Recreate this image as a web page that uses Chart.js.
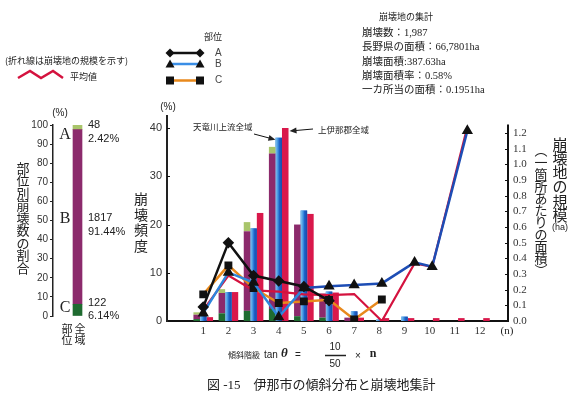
<!DOCTYPE html>
<html>
<head>
<meta charset="utf-8">
<script src="https://cdn.jsdelivr.net/npm/chart.js@4"></script>
<style>
  html, body { margin: 0; padding: 0; background: #fff; }
  #wrap { position: relative; width: 579px; height: 394px; overflow: hidden; background: #fff; }
  #wrap canvas { position: absolute; left: 0; top: 0; }
</style>
</head>
<body>
<div id="wrap">
  <canvas id="main" width="579" height="394"></canvas>
  <canvas id="share" width="140" height="394"></canvas>
</div>
<script>
// ---- slope classes (tan θ = 10/50 × n) ----
const classes = [1, 2, 3, 4, 5, 6, 7, 8, 9, 10, 11, 12];
const classLabels = ['1', '2', '3', '4', '5', '6', '7', '8', '9', '10', '11', '12'];

// landslide frequency (%) of 伊那市, split by slope part
const inaC = [0.4, 1.6, 2.1, 2.5, 1.0, 0.7, 0.0, 0, 0, 0, 0, 0];
const inaB = [0.9, 4.2, 16.5, 32.2, 19.0, 5.0, 0.7, 0, 0, 0, 0, 0];
const inaA = [0.5, 0.8, 1.9, 1.4, 0.0, 0.0, 0.0, 0, 0, 0, 0, 0];
// 天竜川上流全域 and 上伊那郡全域 frequency (%)
const tenryuFreq = [1.1, 6.0, 19.2, 38.0, 22.9, 6.1, 2.0, 0.3, 0.9, 0, 0, 0];
const kamiinaFreq = [0.8, 6.0, 22.4, 40.0, 22.2, 5.9, 0.7, 0.6, 0.6, 0.6, 0.6, 0.6];

// landslide size per site (ha); the last point stands for the steepest classes
const lineClassPos = [1, 2, 3, 4, 5, 6, 7, 8.1, 9.4, 10.1, 11.5];
const sizeAvg = [0.07, 0.29, 0.195, 0.188, 0.17, 0.165, 0.172, 0.0, 0.367, 0.346, 1.24];
const sizeA = [0.09, 0.50, 0.29, 0.255, 0.22, 0.13];
const sizeB = [0.05, 0.31, 0.245, 0.025, 0.21, 0.222, 0.229, 0.24, 0.374, 0.346, 1.214];
const sizeC = [0.17, 0.355, 0.21, 0.115, 0.125, 0.135, 0.01, 0.137];

// share of landslides by slope part (全域)
const partNames = ['A', 'B', 'C'];
const partCounts = [48, 1817, 122];
const partPct = [2.42, 91.44, 6.14];

// axis ticks
const freqTicks = [0, 10, 20, 30, 40];
const sizeTicks = [0, 0.1, 0.2, 0.3, 0.4, 0.5, 0.6, 0.7, 0.8, 0.9, 1.0, 1.1, 1.2];
const shareTicks = [0, 10, 20, 30, 40, 50, 60, 70, 80, 90, 100];

// summary block
const summaryTitle = '崩壊地の集計';
const summaryLines = [
  '崩壊数：1,987',
  '長野県の面積：66,7801ha',
  '崩壊面積:387.63ha',
  '崩壊面積率：0.58%',
  '一カ所当の面積：0.1951ha'
];

const SANS = "'Liberation Sans', 'Noto Sans CJK JP', sans-serif";
const JSANS = "'Noto Sans CJK JP', sans-serif";
const SERIF = "'Liberation Serif', 'Noto Sans CJK JP', serif";
const INK = '#222';

const C_LGREEN = '#a9c56b';
const C_PURPLE = '#8c2a6c';
const C_DGREEN = '#1f6b30';
const C_RED = '#d9184b';
const C_LINE_RED = '#d4123e';
const C_ORANGE = '#e8891c';

const bars = (vals) => vals.map((v, i) => ({ x: classes[i], y: v }));
const pts = (vals) => vals.map((v, i) => ({ x: lineClassPos[i], y: v }));

function vtext(ctx, str, x, y0, step) {
  ctx.textAlign = 'center';
  ctx.textBaseline = 'middle';
  Array.from(str).forEach((c, i) => ctx.fillText(c, x, y0 + i * step));
}

function arrow(ctx, x1, y1, x2, y2) {
  const a = Math.atan2(y2 - y1, x2 - x1);
  ctx.beginPath();
  ctx.moveTo(x1, y1);
  ctx.lineTo(x2 - 5 * Math.cos(a), y2 - 5 * Math.sin(a));
  ctx.stroke();
  ctx.beginPath();
  ctx.moveTo(x2, y2);
  ctx.lineTo(x2 - 7 * Math.cos(a) + 3 * Math.sin(a), y2 - 7 * Math.sin(a) - 3 * Math.cos(a));
  ctx.lineTo(x2 - 7 * Math.cos(a) - 3 * Math.sin(a), y2 - 7 * Math.sin(a) + 3 * Math.cos(a));
  ctx.closePath();
  ctx.fill();
}

function marker(ctx, style, x, y, r) {
  ctx.beginPath();
  if (style === 'diamond') {
    ctx.moveTo(x, y - r); ctx.lineTo(x + r, y); ctx.lineTo(x, y + r); ctx.lineTo(x - r, y);
  } else if (style === 'triangle') {
    ctx.moveTo(x, y - r); ctx.lineTo(x + r, y + r * 0.75); ctx.lineTo(x - r, y + r * 0.75);
  } else {
    ctx.rect(x - r, y - r, 2 * r, 2 * r);
  }
  ctx.closePath();
  ctx.fill();
}

// shaded fill for the 天竜川上流全域 bars
const TENRYU_INDEX = 7;
const cylinderShade = {
  id: 'cylinderShade',
  afterDatasetDraw(chart, args) {
    if (args.index !== TENRYU_INDEX) return;
    const ctx = chart.ctx;
    ctx.save();
    args.meta.data.forEach((el) => {
      const h = el.base - el.y;
      if (h <= 0.3) return;
      const l = el.x - el.width / 2;
      const g = ctx.createLinearGradient(l, 0, l + el.width, 0);
      g.addColorStop(0, '#8cc8f0');
      g.addColorStop(0.4, '#3c90e0');
      g.addColorStop(0.6, '#1f62c8');
      g.addColorStop(1, '#1a49a6');
      ctx.fillStyle = g;
      ctx.fillRect(l, el.y, el.width, h);
    });
    ctx.restore();
  }
};

const mainDecor = {
  id: 'mainDecor',
  afterDraw(chart) {
    const ctx = chart.ctx;
    const { y, y2 } = chart.scales;
    const area = chart.chartArea;
    ctx.save();
    ctx.fillStyle = INK;
    ctx.strokeStyle = INK;

    // right axis line and inward tick marks
    ctx.lineWidth = 2;
    ctx.strokeStyle = '#111';
    ctx.beginPath();
    ctx.moveTo(area.right, y2.getPixelForValue(0) + 1);
    ctx.lineTo(area.right, y2.getPixelForValue(1.255));
    ctx.stroke();
    ctx.lineWidth = 1;
    sizeTicks.slice(1).forEach((v) => {
      const py = Math.round(y2.getPixelForValue(v)) + 0.5;
      ctx.beginPath(); ctx.moveTo(area.right - 3, py); ctx.lineTo(area.right, py); ctx.stroke();
    });
    freqTicks.slice(1).forEach((v) => {
      const py = Math.round(y.getPixelForValue(v)) + 0.5;
      ctx.beginPath(); ctx.moveTo(area.left, py); ctx.lineTo(area.left + 3, py); ctx.stroke();
    });

    // axis titles
    ctx.font = '10px ' + SANS;
    ctx.textAlign = 'center'; ctx.textBaseline = 'middle';
    ctx.fillText('(%)', area.left + 1, 107);
    ctx.font = '14px ' + JSANS;
    vtext(ctx, '崩壊頻度', 141, 199, 15.5);
    ctx.font = '15px ' + JSANS;
    vtext(ctx, '崩壊地の規模', 560, 144, 14.2);
    ctx.font = '13px ' + JSANS;
    vtext(ctx, '︵一箇所あたりの面積︶', 541, 150, 12);
    ctx.font = '9px ' + SANS;
    ctx.fillText('(ha)', 560, 228);
    ctx.font = '11px ' + SERIF;
    ctx.fillText('(n)', 507, 331);

    // bar callouts
    const ten = chart.getDatasetMeta(TENRYU_INDEX).data[3];
    const kam = chart.getDatasetMeta(8).data[3];
    ctx.font = '8.5px ' + JSANS;
    ctx.textAlign = 'left';
    ctx.fillText('天竜川上流全域', 193, 127);
    ctx.fillText('上伊那郡全域', 318, 130);
    ctx.lineWidth = 1;
    arrow(ctx, 254, 134, ten.x - ten.width / 2, ten.y + 2);
    arrow(ctx, 313, 129, kam.x + kam.width / 2 + 1, kam.y + 3);

    // line legend note
    ctx.font = '9px ' + JSANS;
    ctx.textAlign = 'left';
    ctx.fillText('(折れ線は崩壊地の規模を示す)', 5, 61);
    ctx.strokeStyle = C_LINE_RED;
    ctx.lineWidth = 2.5;
    ctx.lineJoin = 'miter';
    ctx.beginPath();
    ctx.moveTo(18, 78); ctx.lineTo(30, 71); ctx.lineTo(41, 78); ctx.lineTo(53, 71); ctx.lineTo(63, 78);
    ctx.stroke();
    ctx.fillStyle = INK;
    ctx.font = '9px ' + JSANS;
    ctx.fillText('平均値', 70, 77);

    // part legend
    ctx.font = '9px ' + JSANS;
    ctx.textAlign = 'center';
    ctx.fillText('部位', 213, 37);
    const legendRows = [
      { name: 'A', y: 53, color: '#111', style: 'diamond', r: 4.5 },
      { name: 'B', y: 64, color: '#3a8ee6', style: 'triangle', r: 4.5 },
      { name: 'C', y: 80.5, color: C_ORANGE, style: 'square', r: 4 }
    ];
    legendRows.forEach((row) => {
      ctx.strokeStyle = row.color;
      ctx.lineWidth = 2.5;
      ctx.beginPath(); ctx.moveTo(170, row.y); ctx.lineTo(200, row.y); ctx.stroke();
      ctx.fillStyle = '#111';
      marker(ctx, row.style, 170, row.y, row.r);
      marker(ctx, row.style, 200, row.y, row.r);
      ctx.fillStyle = '#444';
      ctx.font = '10px ' + SANS;
      ctx.textAlign = 'left';
      ctx.fillText(row.name, 215, row.y);
    });

    // summary block
    ctx.fillStyle = INK;
    ctx.font = '9px ' + JSANS;
    ctx.textAlign = 'center';
    ctx.fillText(summaryTitle, 406, 17);
    ctx.font = '10.5px ' + SERIF;
    ctx.textAlign = 'left';
    summaryLines.forEach((s, i) => ctx.fillText(s, 362, 33 + i * 14.4));

    // slope class formula
    ctx.font = '8px ' + JSANS;
    ctx.fillText('傾斜階級', 228, 355);
    ctx.font = '10px ' + SANS;
    ctx.fillText('tan', 264, 355);
    ctx.font = 'bold italic 13px ' + SERIF;
    ctx.fillText('θ', 281, 354);
    ctx.font = '10px ' + SANS;
    ctx.fillText('=', 295, 355);
    ctx.textAlign = 'center';
    ctx.fillText('10', 335, 347);
    ctx.fillText('50', 335, 364);
    ctx.lineWidth = 1.5;
    ctx.strokeStyle = INK;
    ctx.beginPath(); ctx.moveTo(325, 355.5); ctx.lineTo(346, 355.5); ctx.stroke();
    ctx.fillText('×', 358, 356);
    ctx.font = 'bold 12px ' + SERIF;
    ctx.fillText('n', 373, 354);

    // caption
    ctx.font = '13px ' + SERIF;
    ctx.textAlign = 'left';
    ctx.fillText('図 -15　伊那市の傾斜分布と崩壊地集計', 207, 386);
    ctx.restore();
  }
};

const barBase = { type: 'bar', yAxisID: 'y', order: 2, categoryPercentage: 0.78, barPercentage: 1.0, borderWidth: 0 };

new Chart(document.getElementById('main'), {
  type: 'bar',
  data: {
    datasets: [
      { type: 'line', label: '平均値', data: pts(sizeAvg), yAxisID: 'y2', order: 1,
        borderColor: C_LINE_RED, borderWidth: 2.2, pointRadius: 0, tension: 0 },
      { type: 'line', label: 'A', data: pts(sizeA), yAxisID: 'y2', order: 0,
        borderColor: '#111', borderWidth: 2.5, tension: 0,
        pointStyle: 'rectRot', pointRadius: 4, pointBackgroundColor: '#111', pointBorderColor: '#111' },
      { type: 'line', label: 'B', data: pts(sizeB), yAxisID: 'y2', order: 0,
        borderColor: '#2d86dd', borderWidth: 2.5, tension: 0,
        segment: { borderColor: (c) => (c.p0.parsed.x >= 5 ? '#1d4db5' : '#2d86dd') },
        pointStyle: 'triangle', pointRadius: 4, pointBackgroundColor: '#111', pointBorderColor: '#111' },
      { type: 'line', label: 'C', data: pts(sizeC), yAxisID: 'y2', order: 0,
        borderColor: C_ORANGE, borderWidth: 2.5, tension: 0,
        pointStyle: 'rect', pointRadius: 3.8, pointBackgroundColor: '#111', pointBorderColor: '#111' },
      Object.assign({ label: '伊那市 C', data: bars(inaC), stack: 'ina', backgroundColor: C_DGREEN }, barBase),
      Object.assign({ label: '伊那市 B', data: bars(inaB), stack: 'ina', backgroundColor: C_PURPLE }, barBase),
      Object.assign({ label: '伊那市 A', data: bars(inaA), stack: 'ina', backgroundColor: C_LGREEN }, barBase),
      Object.assign({ label: '天竜川上流全域', data: bars(tenryuFreq), stack: 'tenryu', backgroundColor: '#2f7fd8' }, barBase),
      Object.assign({ label: '上伊那郡全域', data: bars(kamiinaFreq), stack: 'kamiina', backgroundColor: C_RED }, barBase)
    ]
  },
  options: {
    responsive: false,
    animation: false,
    devicePixelRatio: 1,
    layout: { padding: { top: 116, left: 0, right: 0, bottom: 0 } },
    plugins: { legend: { display: false }, tooltip: { enabled: false } },
    scales: {
      x: {
        type: 'linear', min: 0.124, max: 12.55, stacked: true,
        grid: { display: false, drawTicks: false },
        border: { display: true, color: '#111', width: 2 },
        afterBuildTicks: (s) => { s.ticks = classes.map((v) => ({ value: v })); },
        ticks: { padding: 4, color: '#333', font: { family: SERIF, size: 11 },
                 callback: (v) => classLabels[classes.indexOf(v)] },
        afterFit: (s) => { s.height = 73; }
      },
      y: {
        position: 'left', min: 0, max: 42.5, stacked: true,
        grid: { display: false, drawTicks: false },
        border: { display: true, color: '#222', width: 2 },
        afterBuildTicks: (s) => { s.ticks = freqTicks.map((v) => ({ value: v })); },
        ticks: { padding: 5, color: '#333', font: { family: SANS, size: 11 } },
        afterFit: (s) => { s.width = 167; }
      },
      y2: {
        position: 'right', min: 0, max: 1.3085,
        grid: { display: false, drawTicks: false },
        border: { display: false },
        afterBuildTicks: (s) => { s.ticks = sizeTicks.map((v) => ({ value: v })); },
        ticks: { padding: 5, color: '#333', font: { family: SERIF, size: 11 },
                 callback: (v) => Number(v).toFixed(1) },
        afterFit: (s) => { s.width = 71; }
      }
    }
  },
  plugins: [cylinderShade, mainDecor]
});

// share of landslides by slope part
const shareDecor = {
  id: 'shareDecor',
  afterDraw(chart) {
    const ctx = chart.ctx;
    ctx.save();
    ctx.fillStyle = INK;
    ctx.textBaseline = 'middle';
    ctx.textAlign = 'center';
    ctx.font = '10px ' + SANS;
    ctx.fillText('(%)', 60, 113);
    ctx.font = '16px ' + SERIF;
    const ys = chart.scales.y;
    ctx.fillText(partNames[0], 65, ys.getPixelForValue(95));
    ctx.fillText(partNames[1], 65, ys.getPixelForValue(51));
    ctx.fillText(partNames[2], 65, ys.getPixelForValue(4.5));
    ctx.font = '11px ' + SANS;
    ctx.textAlign = 'left';
    const rows = [[125, 139], [218, 232], [303, 316]];
    rows.forEach((r, i) => {
      ctx.fillText(String(partCounts[i]), 88, r[0]);
      ctx.fillText(partPct[i].toFixed(2) + '%', 88, r[1]);
    });
    ctx.font = '13px ' + JSANS;
    vtext(ctx, '部位別崩壊数の割合', 23, 168, 12.5);
    ctx.font = '11px ' + JSANS;
    vtext(ctx, '部位', 67, 329, 11);
    vtext(ctx, '全域', 80, 329, 11);
    ctx.restore();
  }
};

new Chart(document.getElementById('share'), {
  type: 'bar',
  data: {
    labels: ['全域'],
    datasets: [
      { label: 'C', data: [partPct[2]], backgroundColor: C_DGREEN, stack: 's' },
      { label: 'B', data: [partPct[1]], backgroundColor: C_PURPLE, stack: 's' },
      { label: 'A', data: [partPct[0]], backgroundColor: C_LGREEN, stack: 's' }
    ]
  },
  options: {
    responsive: false,
    animation: false,
    devicePixelRatio: 1,
    layout: { padding: { top: 125, bottom: 78, left: 0, right: 38 } },
    datasets: { bar: { barThickness: 9, borderWidth: 0 } },
    plugins: { legend: { display: false }, tooltip: { enabled: false } },
    scales: {
      x: { display: false, stacked: true },
      y: {
        min: 0, max: 100, stacked: true,
        grid: { drawOnChartArea: false, drawTicks: true, tickLength: 3, color: '#222' },
        border: { display: true, color: '#222', width: 1.5 },
        afterBuildTicks: (s) => { s.ticks = shareTicks.map((v) => ({ value: v })); },
        ticks: { padding: 2, color: '#333', font: { family: SANS, size: 10 } },
        afterFit: (s) => { s.width = 53; }
      }
    }
  },
  plugins: [shareDecor]
});
</script>
</body>
</html>
